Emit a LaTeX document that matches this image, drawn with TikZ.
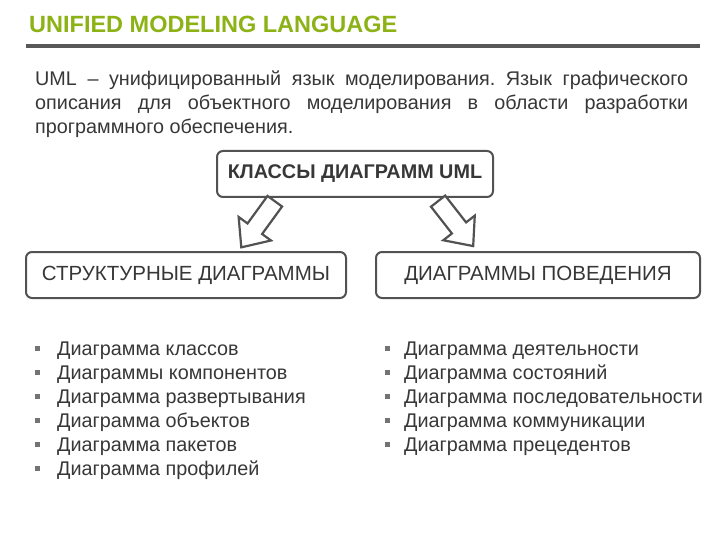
\documentclass[tikz,border=0pt]{standalone}
\usepackage{fontspec}
\setmainfont{Liberation Sans}
\usetikzlibrary{calc}
\frenchspacing

\definecolor{umlGreen}{RGB}{140,178,22}
\definecolor{barGray}{RGB}{88,88,88}
\definecolor{textGray}{RGB}{55,55,55}
\definecolor{boxGray}{RGB}{82,82,82}

\tikzset{
  headbox/.style={draw=boxGray, line width=2pt, rounded corners=6pt, fill=white,
    text=textGray, inner sep=0pt, minimum height=46pt},
  blockarrow/.style={draw=boxGray, line width=2.2pt, fill=white, line join=miter},
  listitem/.style={text=textGray, font=\fontsize{19.8}{22}\selectfont, inner sep=0pt, anchor=base west},
  bulletmark/.style={fill=textGray!70, minimum size=5pt, inner sep=0pt}
}

\begin{document}
\begin{tikzpicture}[x=1pt, y=-1pt]

\useasboundingbox (0,0) rectangle (720,540);

% _____ Title and bar
\node[anchor=base west, inner sep=0pt, text=umlGreen,
  font=\fontsize{23.5}{26}\selectfont\bfseries] (title) at (29,33) {UNIFIED MODELING LANGUAGE};
\fill[barGray] (26,44) rectangle (700,48);

% _____ Definition
\node[anchor=north west, inner sep=0pt, text width=653pt, align=justify, text=textGray,
  font=\fontsize{19.8}{24}\selectfont] (definition) at (35,71)
  {UML – унифицированный язык моделирования. Язык графического\linebreak
   описания для объектного моделирования в области разработки\linebreak
   программного обеспечения.};

% _____ Boxes
\node[headbox, minimum width=276pt, font=\fontsize{19.8}{22}\selectfont\bfseries] (classes) at (355,174) {КЛАССЫ ДИАГРАММ UML};
\node[headbox, minimum width=320pt, font=\fontsize{20.5}{22}\selectfont] (structural) at (186,275) {СТРУКТУРНЫЕ ДИАГРАММЫ};
\node[headbox, minimum width=324pt, font=\fontsize{20.5}{22}\selectfont] (behaviour) at (538,275) {ДИАГРАММЫ ПОВЕДЕНИЯ};

% _____ Block arrows
\def\ArrowLen{61}
\def\ArrowShaft{9}
\def\ArrowHead{20}
\def\ArrowHeadLen{23}

\coordinate (leftTail) at ($(classes.south west)!0.22!(classes.south east)$);
\coordinate (rightTail) at ($(classes.south west)!0.79!(classes.south east)$);

\draw[blockarrow, shift={(leftTail)}, rotate=234]
  (4,-\ArrowShaft) -- (\ArrowLen-\ArrowHeadLen,-\ArrowShaft) -- (\ArrowLen-\ArrowHeadLen,-\ArrowHead)
  -- (\ArrowLen,0) -- (\ArrowLen-\ArrowHeadLen,\ArrowHead) -- (\ArrowLen-\ArrowHeadLen,\ArrowShaft)
  -- (4,\ArrowShaft) -- cycle;
\draw[blockarrow, shift={(rightTail)}, rotate=-52]
  (4,-\ArrowShaft) -- (\ArrowLen-\ArrowHeadLen,-\ArrowShaft) -- (\ArrowLen-\ArrowHeadLen,-\ArrowHead)
  -- (\ArrowLen,0) -- (\ArrowLen-\ArrowHeadLen,\ArrowHead) -- (\ArrowLen-\ArrowHeadLen,\ArrowShaft)
  -- (4,\ArrowShaft) -- cycle;

% _____ Lists
\foreach \entry [count=\i] in {Диаграмма классов, Диаграммы компонентов, Диаграмма развертывания,
    Диаграмма объектов, Диаграмма пакетов, Диаграмма профилей} {
  \node[listitem] (structItem\i) at (57,331+24*\i) {\entry};
  \node[bulletmark] (structBullet\i) at ($(structItem\i.base west)+(-20,-7)$) {};
}
\foreach \entry [count=\i] in {Диаграмма деятельности, Диаграмма состояний, Диаграмма последовательности,
    Диаграмма коммуникации, Диаграмма прецедентов} {
  \node[listitem] (behavItem\i) at (404,331+24*\i) {\entry};
  \node[bulletmark] (behavBullet\i) at ($(behavItem\i.base west)+(-17,-7)$) {};
}

\end{tikzpicture}
\end{document}
